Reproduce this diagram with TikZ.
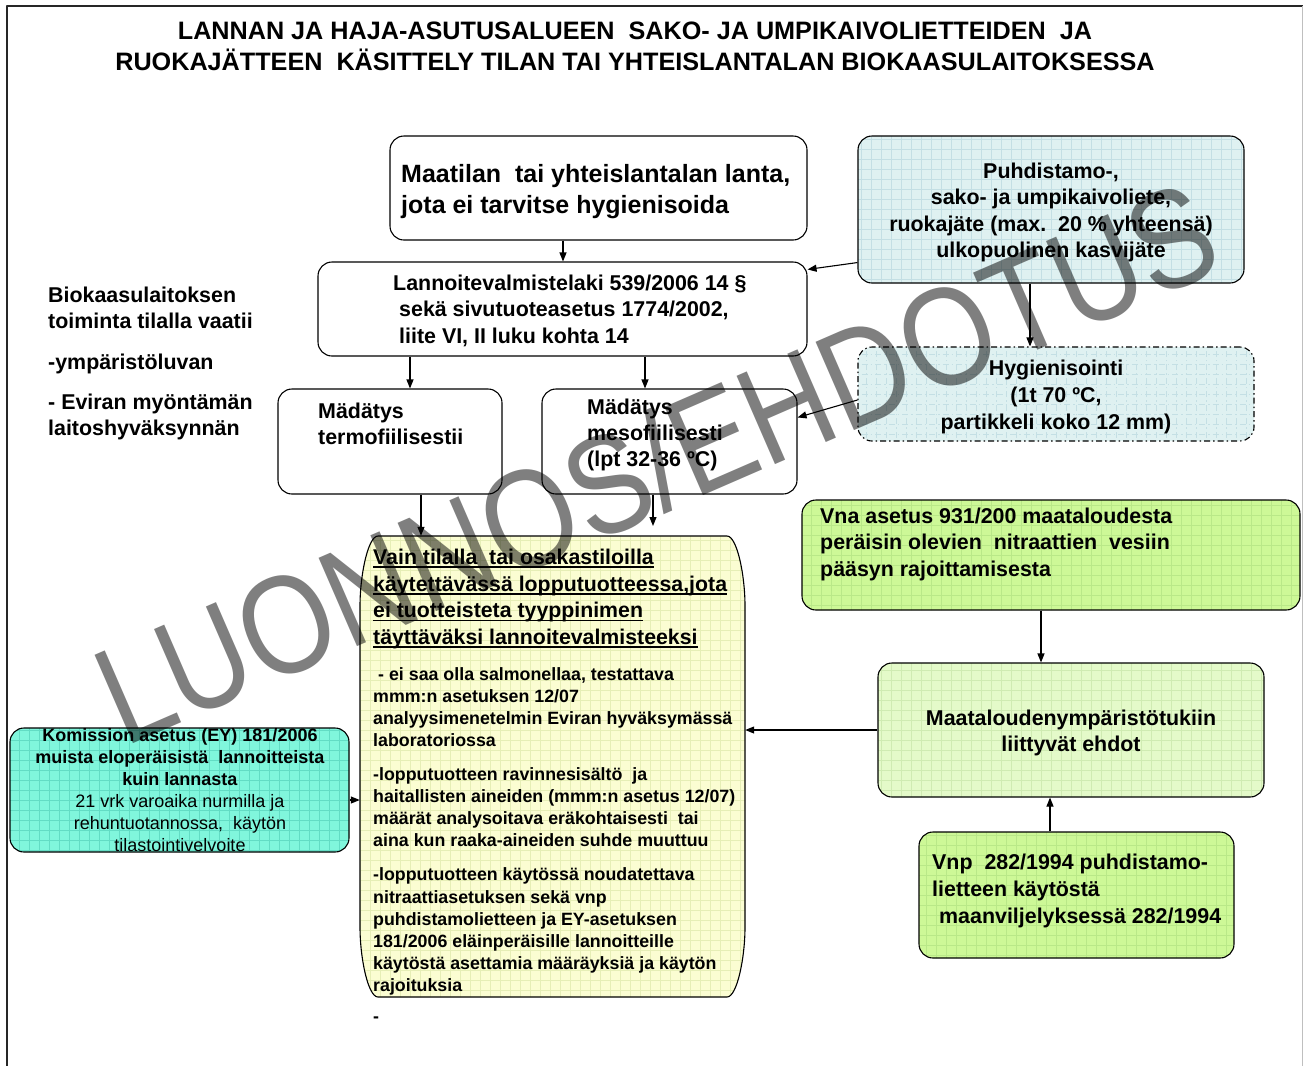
\documentclass[tikz,border=0pt]{standalone}
\usepackage{fontspec}
\setmainfont{Liberation Sans}
\usetikzlibrary{arrows.meta,calc}

\newcommand\fsz[2]{\fontsize{#1}{#2}\selectfont}
\newsavebox\ulbox
\newcommand\ulline[1]{\sbox\ulbox{#1}\rlap{\rule[-3.5pt]{\wd\ulbox}{1.5pt}}\usebox\ulbox}

\definecolor{cyanfill}{HTML}{DFF1F1}
\definecolor{cyangrid}{HTML}{C4DFE4}
\definecolor{yelfill}{HTML}{FBFDD2}
\definecolor{yelgrid}{HTML}{E6EEB6}
\definecolor{aquafill}{HTML}{80F6DC}
\definecolor{aquagrid}{HTML}{62DCC4}
\definecolor{grnfill}{HTML}{CDF897}
\definecolor{grngrid}{HTML}{B9E888}
\definecolor{lgrnfill}{HTML}{E4FAC9}
\definecolor{lgrngrid}{HTML}{CFEBB2}

\begin{document}
\begin{tikzpicture}[x=1pt, y=-1pt, line join=round,
  box/.style={rectangle, draw=black, line width=1.1pt, rounded corners=14pt, inner sep=0pt},
  gridbox/.style 2 args={fill=#1, path picture={
      \draw[#2, line width=0.6pt]
        ([shift={(-10pt,-10pt)}]path picture bounding box.south west) grid[step=10pt]
        ([shift={(10pt,10pt)}]path picture bounding box.north east);}},
  txt/.style={inner sep=0pt, align=left, anchor=north west, font=\bfseries\fsz{21.4}{26.5}},
  ctxt/.style={inner sep=0pt, align=center, anchor=north, font=\bfseries\fsz{21.4}{26.5}},
  arr/.style={line width=1.1pt, -{Triangle[length=9pt,width=7pt]}}
]
\useasboundingbox (0,0) rectangle (1303,1066);
\fill[white] (0,0) rectangle (1303,1066);

% page frame
\draw[black!85, line width=2.5pt] (1303,6) -- (7,6) -- (7,1066);
\draw[black!25, line width=1pt] (1302,6) -- (1302,1066);

% title
\node[inner sep=0pt, align=center, anchor=north, font=\bfseries\fsz{25.2}{31}] (title) at (635,21.5)
  {LANNAN JA HAJA-ASUTUSALUEEN\ \ SAKO- JA UMPIKAIVOLIETTEIDEN\ \ JA\\
   RUOKAJÄTTEEN\ \ KÄSITTELY TILAN TAI YHTEISLANTALAN BIOKAASULAITOKSESSA};

% boxes
\node[box, fill=white, minimum width=417pt, minimum height=104pt] (A) at (598.5,188) {};
\node[box, fill=white, minimum width=489pt, minimum height=94pt] (B) at (562.5,309) {};
\node[box, gridbox={cyanfill}{cyangrid}, minimum width=386pt, minimum height=147pt] (C) at (1051,209.5) {};
\node[box, gridbox={cyanfill}{cyangrid}, dash pattern=on 6pt off 3pt on 1.5pt off 3pt,
      minimum width=396pt, minimum height=94pt] (D) at (1056,394) {};
\node[box, fill=white, minimum width=224pt, minimum height=105pt] (E) at (390,441.5) {};
\node[box, fill=white, minimum width=255pt, minimum height=105pt] (F) at (669.5,441.5) {};
\node[box, gridbox={aquafill}{aquagrid}, minimum width=339pt, minimum height=124pt] (H) at (179.5,790) {};
\node[box, gridbox={grnfill}{grngrid}, minimum width=498pt, minimum height=110pt] (I) at (1051,555) {};
\node[box, gridbox={lgrnfill}{lgrngrid}, minimum width=386pt, minimum height=134pt] (J) at (1071,730) {};
\node[box, gridbox={grnfill}{grngrid}, minimum width=315pt, minimum height=126pt] (K) at (1076.5,895) {};

% tall central box with elongated corners
\node[inner sep=0pt, minimum width=385pt, minimum height=461pt] (G) at (552.5,766.5) {};
\draw[line width=1.1pt, gridbox={yelfill}{yelgrid}]
  (378,536) -- (727,536) .. controls (737,536) and (745,575) .. (745,606)
  -- (745,927) .. controls (745,958) and (737,997) .. (727,997)
  -- (378,997) .. controls (368,997) and (360,958) .. (360,927)
  -- (360,606) .. controls (360,575) and (368,536) .. cycle;

% texts
\node[txt, font=\bfseries\fsz{25}{31}] (Atxt) at (401,164.3)
  {Maatilan\ \ tai yhteislantalan lanta,\\jota ei tarvitse hygienisoida};
\node[txt] (Btxt) at (393,274.6)
  {Lannoitevalmistelaki 539/2006 14 §\\\hspace*{6pt}sekä sivutuoteasetus 1774/2002,\\\hspace*{6pt}liite VI, II luku kohta 14};
\node[ctxt] (Ctxt) at (1051,162.6)
  {Puhdistamo-,\\sako- ja umpikaivoliete,\\ruokajäte (max.\ \ 20 \% yhteensä)\\ulkopuolinen kasvijäte};
\node[ctxt, font=\bfseries\fsz{21.4}{27}] (Dtxt) at (1056,359.6)
  {Hygienisointi\\(1t 70 ºC,\\partikkeli koko 12 mm)};
\node[txt, font=\bfseries\fsz{21.4}{26}] (Etxt) at (318,402.6) {Mädätys\\termofiilisestii};
\node[txt, font=\bfseries\fsz{21.4}{26}] (Ftxt) at (587,398.6) {Mädätys\\mesofiilisesti\\(lpt 32-36 ºC)};
\node[txt, font=\bfseries\fsz{21.4}{26}] (Ltxt) at (48,286.6)
  {Biokaasulaitoksen\\toiminta tilalla vaatii\\[15pt]-ympäristöluvan\\[14pt]- Eviran myöntämän\\laitoshyväksynnän};

\node[txt, font=\bfseries\fsz{21.3}{26.7}] (Ghead) at (373,548.7)
  {\ulline{Vain tilalla\ \ tai osakastiloilla}\\
   \ulline{käytettävässä lopputuotteessa,jota}\\
   \ulline{ei tuotteisteta tyyppinimen}\\
   \ulline{täyttäväksi lannoitevalmisteeksi}};
\node[txt, font=\bfseries\fsz{17.8}{22.1}] (Gbody) at (373,667)
  {\hspace*{5pt}- ei saa olla salmonellaa, testattava\\
   mmm:n asetuksen 12/07\\
   analyysimenetelmin Eviran hyväksymässä\\
   laboratoriossa\\[12pt]
   -lopputuotteen ravinnesisältö\ \ ja\\
   haitallisten aineiden (mmm:n asetus 12/07)\\
   määrät analysoitava eräkohtaisesti\ \ tai\\
   aina kun raaka-aineiden suhde muuttuu\\[12pt]
   -lopputuotteen käytössä noudatettava\\
   nitraattiasetuksen sekä vnp\\
   puhdistamolietteen ja EY-asetuksen\\
   181/2006 eläinperäisille lannoitteille\\
   käytöstä asettamia määräyksiä ja käytön\\
   rajoituksia};
\node[inner sep=0pt, anchor=west, font=\bfseries\fsz{17.8}{22}] (dash) at (373,1020) {-};

\node[inner sep=0pt, align=center, anchor=north, font=\fsz{18}{22}] (Htxt) at (180,728)
  {\textbf{Komission asetus (EY) 181/2006}\\
   \textbf{muista eloperäisistä\ \ lannoitteista}\\
   \textbf{kuin lannasta}\\
   21 vrk varoaika nurmilla ja\\
   rehuntuotannossa,\ \ käytön\\
   tilastointivelvoite};
\node[txt] (Itxt) at (820,507.6)
  {Vna asetus 931/200 maataloudesta\\peräisin olevien\ \ nitraattien\ \ vesiin\\pääsyn rajoittamisesta};
\node[ctxt, font=\bfseries\fsz{21.4}{26}] (Jtxt) at (1071,709.6)
  {Maataloudenympäristötukiin\\liittyvät ehdot};
\node[txt, font=\bfseries\fsz{21.4}{27}] (Ktxt) at (932,853.6)
  {Vnp\ \ 282/1994 puhdistamo-\\lietteen käytöstä\\\hspace*{7pt}maanviljelyksessä 282/1994};

% connectors
\coordinate (xab) at (563,0);
\coordinate (xbe) at (410,0);
\coordinate (xbf) at (645,0);
\coordinate (xcd) at (1030,0);
\coordinate (xeg) at (421,0);
\coordinate (xfg) at (653,0);
\coordinate (xij) at (1041,0);
\coordinate (xkj) at (1050,0);
\coordinate (fgend) at (653,526);

\draw[arr] (A.south -| xab) -- (B.north -| xab);
\draw[arr] ($(C.south west)+(0,-21)$) -- ($(B.north east)+(0,8)$);
\draw[arr] (C.south -| xcd) -- (D.north -| xcd);
\draw[arr] (B.south -| xbe) -- (E.north -| xbe);
\draw[arr] (B.south -| xbf) -- (F.north -| xbf);
\draw[arr] ($(D.west)+(0,6)$) -- ($(F.north east)+(0,29)$);
\draw[arr] (E.south -| xeg) -- (G.north -| xeg);
\draw[arr] (F.south -| xfg) -- (fgend);
\draw[arr] (J.west) -- (G.east |- J.west);
\draw[arr] ($(H.east)+(0,10)$) -- ($(G.west |- H.east)+(0,10)$);
\draw[arr] (I.south -| xij) -- (J.north -| xij);
\draw[arr] (K.north -| xkj) -- (J.south -| xkj);

% draft stamp
\node[rotate=23.5, inner sep=0pt, text=black, text opacity=0.5, xscale=0.85,
      font=\fsz{140}{140}] (stamp) at (656,462)
  {LUONNOS/EHDOTUS};
\end{tikzpicture}
\end{document}
